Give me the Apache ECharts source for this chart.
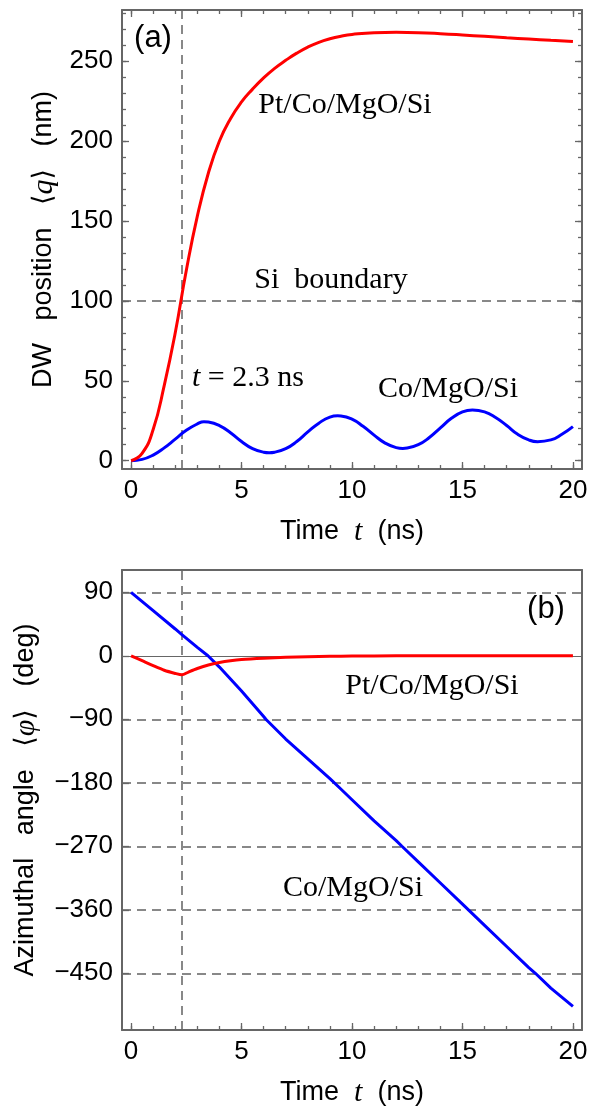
<!DOCTYPE html>
<html>
<head>
<meta charset="utf-8">
<script src="https://cdn.jsdelivr.net/npm/echarts@6/dist/echarts.min.js"></script>
<style>html,body{margin:0;padding:0;background:#fff;}#c{width:605px;height:1110px;}</style>
</head>
<body>
<div id="c"></div>
<script>
// ---------- data ----------
// Panel (a): DW position <q> (nm) vs time (ns)
const tPt = [0, 0.5, 1, 1.5, 2, 2.5, 3, 3.5, 4, 4.5, 5, 5.5, 6, 6.5, 7, 7.5, 8, 8.5, 9, 9.5, 10, 11, 12, 13, 14, 15, 16, 17, 18, 19, 20];
const qPt = [0, 4.6, 19.5, 47, 80, 119, 153, 180, 200, 214, 224.5, 232.5, 239.5, 245.5, 250.5, 255, 258.8, 261.8, 264, 265.6, 266.7, 267.8, 268, 267.8, 267.2, 266.4, 265.5, 264.6, 263.8, 263, 262.3];
const tCo = [0, 0.5, 1, 1.5, 2, 2.5, 3, 3.3, 3.5, 4, 4.5, 5, 5.5, 6, 6.25, 6.5, 7, 7.5, 8, 8.5, 9, 9.35, 9.5, 10, 10.5, 11, 11.5, 12, 12.3, 12.5, 13, 13.5, 14, 14.5, 15, 15.45, 16, 16.5, 17, 17.5, 18, 18.4, 19, 19.5, 20];
const qCo = [0, 0.8, 3.5, 8, 13.5, 19, 23, 24.4, 24.2, 22, 17.5, 12, 7.5, 5.3, 5, 5.3, 7.5, 12, 18, 23.5, 27.3, 28.1, 28, 26, 21.5, 16, 11, 8.2, 7.7, 7.9, 10, 14.5, 20.5, 26.5, 30.5, 31.7, 30.5, 27, 22, 16.5, 13, 11.9, 13, 16.5, 21.3];
// Panel (b): azimuthal angle <phi> (deg) vs time (ns)
const tPhiPt = [0, 0.5, 1, 1.5, 2, 2.3, 2.6, 3, 3.5, 4, 4.5, 5, 6, 7, 8, 9, 10, 12, 14, 16, 18, 20];
const phiPt = [0, -7, -14, -20.5, -25, -27, -23, -18, -13, -9.5, -7, -5.3, -3.5, -2.2, -1.3, -0.7, -0.4, -0.1, 0, 0, 0, 0];
const tPhiCo = [0, 1, 2, 2.3, 3, 3.48, 4, 5, 6, 6.1, 7, 8, 9, 9.4, 10, 11, 12, 12.26, 13, 14, 15, 15.4, 16, 17, 18, 18.3, 19, 20];
const phiCo = [90, 64, 38, 30, 12, 0, -16, -50, -86, -90, -118, -146, -174, -186, -204, -234, -262, -270, -292, -322, -352, -364, -382, -412, -442, -450, -471, -497];
// axes
const tRange = [-0.41, 20.41];
const qRange = [-5.2, 282];
const phiRange = [-530.4, 121.6];
const tMajor = [0, 5, 10, 15, 20];
const tMinor = [0,1,2,3,4,5,6,7,8,9,10,11,12,13,14,15,16,17,18,19,20];
const qMajor = [0, 50, 100, 150, 200, 250];
const qMinor = [0,10,20,30,40,50,60,70,80,90,100,110,120,130,140,150,160,170,180,190,200,210,220,230,240,250,260,270,280];
const phiMajor = [90, 0, -90, -180, -270, -360, -450];
const tMark = 2.3;
const siBoundary = 100;

// ---------- chart ----------
const FRAME = '#666666';
const LBL = {fontFamily: '"Liberation Sans", Arial, sans-serif', fontSize: 26, color: '#000'};
const pair = (xs, ys) => xs.map((x, i) => [x, ys[i]]);
const minusFmt = v => (v < 0 ? '\u2212' + Math.abs(v) : String(v));

function ax(grid, pos, range, ticks, len, opts) {
  opts = opts || {};
  return {
    type: 'value', gridIndex: grid, position: pos, min: range[0], max: range[1],
    axisLine: {show: !!opts.line, onZero: false, lineStyle: {color: FRAME, width: 2}},
    axisTick: {show: ticks.length > 0, inside: true, length: len, customValues: ticks, lineStyle: {color: FRAME, width: 1.3}},
    axisLabel: opts.labels ? Object.assign({show: true, margin: 9, customValues: opts.labels, formatter: minusFmt}, LBL) : {show: false},
    splitLine: {show: false},
    name: opts.name || '', nameLocation: 'middle', nameGap: opts.nameGap || 0, nameRotate: opts.nameRotate,
    nameTextStyle: opts.nameStyle || {},
    z: 5
  };
}

const nameRich = {
  s: {fontFamily: '"Liberation Sans", Arial, sans-serif', fontSize: 27, color: '#000'},
  i: {fontFamily: '"Liberation Serif", "Times New Roman", serif', fontStyle: 'italic', fontSize: 30, color: '#000'},
  b: {fontFamily: '"DejaVu Sans", sans-serif', fontSize: 27, color: '#000'}
};

const dashStyle = {color: '#888', width: 2, type: [9, 6]};
const xName = '{s|Time  }{i|t}{s|  (ns)}';

const option = {
  animation: false,
  backgroundColor: '#fff',
  grid: [
    {left: 122, top: 10, width: 460, height: 459, containLabel: false},
    {left: 122, top: 570, width: 460, height: 460, containLabel: false}
  ],
  xAxis: [
    ax(0, 'bottom', tRange, tMajor, 7, {line: true, labels: tMajor, name: xName, nameGap: 48, nameStyle: {rich: nameRich}}),
    ax(0, 'bottom', tRange, tMinor, 4),
    ax(0, 'top', tRange, tMajor, 7, {line: true}),
    ax(0, 'top', tRange, tMinor, 4),
    ax(1, 'bottom', tRange, tMajor, 7, {line: true, labels: tMajor, name: xName, nameGap: 48, nameStyle: {rich: nameRich}}),
    ax(1, 'bottom', tRange, tMinor, 4),
    ax(1, 'top', tRange, [], 0, {line: true})
  ],
  yAxis: [
    ax(0, 'left', qRange, qMajor, 7, {line: true, labels: qMajor, name: '{s|DW   position   }{b|\u27E8}{i|q}{b|\u27E9}{s|   (nm)}', nameGap: 63, nameRotate: 90, nameStyle: {rich: nameRich}}),
    ax(0, 'left', qRange, qMinor, 4),
    ax(0, 'right', qRange, qMajor, 7, {line: true}),
    ax(0, 'right', qRange, qMinor, 4),
    ax(1, 'left', phiRange, phiMajor, 7, {line: true, labels: phiMajor, name: '{s|Azimuthal   angle   }{b|\u27E8}{i|\u03C6}{b|\u27E9}{s|   (deg)}', nameGap: 81, nameRotate: 90, nameStyle: {rich: nameRich}}),
    ax(1, 'right', phiRange, [], 0, {line: true})
  ],
  series: [
    {
      name: 'Co/MgO/Si (q)', type: 'line', xAxisIndex: 0, yAxisIndex: 0, data: pair(tCo, qCo),
      smooth: true, symbol: 'none', lineStyle: {color: '#0000ff', width: 3}, z: 3,
      markLine: {silent: true, symbol: 'none', z: 1, label: {show: false}, lineStyle: dashStyle,
        data: [{xAxis: tMark}, {yAxis: siBoundary}]}
    },
    {
      name: 'Pt/Co/MgO/Si (q)', type: 'line', xAxisIndex: 0, yAxisIndex: 0, data: pair(tPt, qPt),
      smooth: true, symbol: 'none', lineStyle: {color: '#ff0000', width: 3}, z: 4
    },
    {
      name: 'Co/MgO/Si (phi)', type: 'line', xAxisIndex: 4, yAxisIndex: 4, data: pair(tPhiCo, phiCo),
      smooth: false, symbol: 'none', lineStyle: {color: '#0000ff', width: 3}, z: 3,
      markLine: {silent: true, symbol: 'none', z: 1, label: {show: false}, lineStyle: dashStyle,
        data: [{xAxis: tMark}].concat(phiMajor.filter(v => v !== 0).map(v => ({yAxis: v})))
          .concat([{yAxis: 0, lineStyle: {color: '#666', width: 1, type: 'solid'}}])}
    },
    {
      name: 'Pt/Co/MgO/Si (phi)', type: 'line', xAxisIndex: 4, yAxisIndex: 4, data: pair(tPhiPt, phiPt),
      smooth: 0.25, symbol: 'none', lineStyle: {color: '#ff0000', width: 3}, z: 4
    }
  ],
  graphic: [
    {type: 'text', x: 153, y: 38, z: 10, style: {text: '(a)', font: '31px "Liberation Sans", Arial, sans-serif', fill: '#000', textAlign: 'center', textVerticalAlign: 'middle'}},
    {type: 'text', x: 345, y: 105, z: 10, style: {text: 'Pt/Co/MgO/Si', font: '30px "Liberation Serif", "Times New Roman", serif', fill: '#000', textAlign: 'center', textVerticalAlign: 'middle'}},
    {type: 'text', x: 331, y: 280, z: 10, style: {text: 'Si  boundary', font: '30px "Liberation Serif", "Times New Roman", serif', fill: '#000', textAlign: 'center', textVerticalAlign: 'middle'}},
    {type: 'text', x: 248, y: 378, z: 10, style: {text: '{i|t}{r| = 2.3 ns}', textAlign: 'center', textVerticalAlign: 'middle',
      rich: {i: {font: 'italic 30px "Liberation Serif", serif', fill: '#000'}, r: {font: '30px "Liberation Serif", serif', fill: '#000'}}}},
    {type: 'text', x: 448, y: 389, z: 10, style: {text: 'Co/MgO/Si', font: '30px "Liberation Serif", "Times New Roman", serif', fill: '#000', textAlign: 'center', textVerticalAlign: 'middle'}},
    {type: 'text', x: 546, y: 609, z: 10, style: {text: '(b)', font: '31px "Liberation Sans", Arial, sans-serif', fill: '#000', textAlign: 'center', textVerticalAlign: 'middle'}},
    {type: 'text', x: 432, y: 686, z: 10, style: {text: 'Pt/Co/MgO/Si', font: '30px "Liberation Serif", "Times New Roman", serif', fill: '#000', textAlign: 'center', textVerticalAlign: 'middle'}},
    {type: 'text', x: 353, y: 888, z: 10, style: {text: 'Co/MgO/Si', font: '30px "Liberation Serif", "Times New Roman", serif', fill: '#000', textAlign: 'center', textVerticalAlign: 'middle'}}
  ]
};
const chart = echarts.init(document.getElementById('c'), null, {renderer: 'canvas'});
chart.setOption(option);
</script>
</body>
</html>
